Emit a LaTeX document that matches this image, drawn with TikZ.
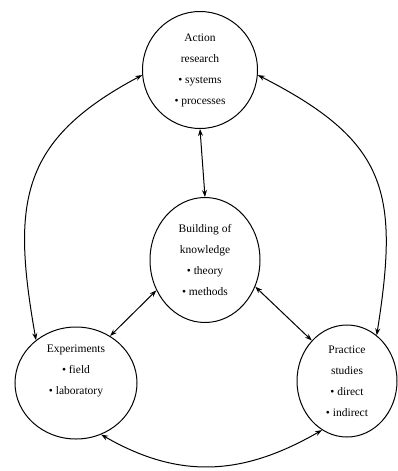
\documentclass[tikz,border=0pt]{standalone}
\usepackage{fontspec}
\setmainfont{Liberation Serif}
\usetikzlibrary{shapes.geometric,arrows.meta}
\begin{document}
\begin{tikzpicture}[x=1pt,y=-1pt,
  ell/.style={draw,ellipse,line width=1pt,inner sep=0pt,align=center,font=\fontsize{11.5}{21}\selectfont},
  conn/.style={line width=1pt,{Stealth[length=7pt,width=5pt]}-{Stealth[length=7pt,width=5pt]}}]
\useasboundingbox (0,0) rectangle (397,471);
\node[ell,minimum width=115pt,minimum height=117pt] (act) at (200,70) {Action\\research\\• systems\\• processes};
\node[ell,minimum width=110pt,minimum height=125pt] (build) at (205,260) {Building of\\knowledge\\• theory\\• methods};
\node[ell,minimum width=122pt,minimum height=112pt] (exp) at (76,383) {Experiments\\• field\\• laboratory\\[6pt]};
\node[ell,minimum width=100pt,minimum height=112pt] (prac) at (347,381) {Practice\\studies\\• direct\\• indirect};
\draw[conn] (act.270) -- (build.90);
\draw[conn] (build.212) -- (exp.54);
\draw[conn] (build.-28) -- (prac.131);
\draw[conn] (act.185) to[out=208,in=100,looseness=1.25] (exp.133);
\draw[conn] (act.-5) to[out=-27,in=81,looseness=1.3] (prac.57);
\draw[conn] (exp.-64) to[out=-30,in=210,looseness=1.05] (prac.243);
\end{tikzpicture}
\end{document}
